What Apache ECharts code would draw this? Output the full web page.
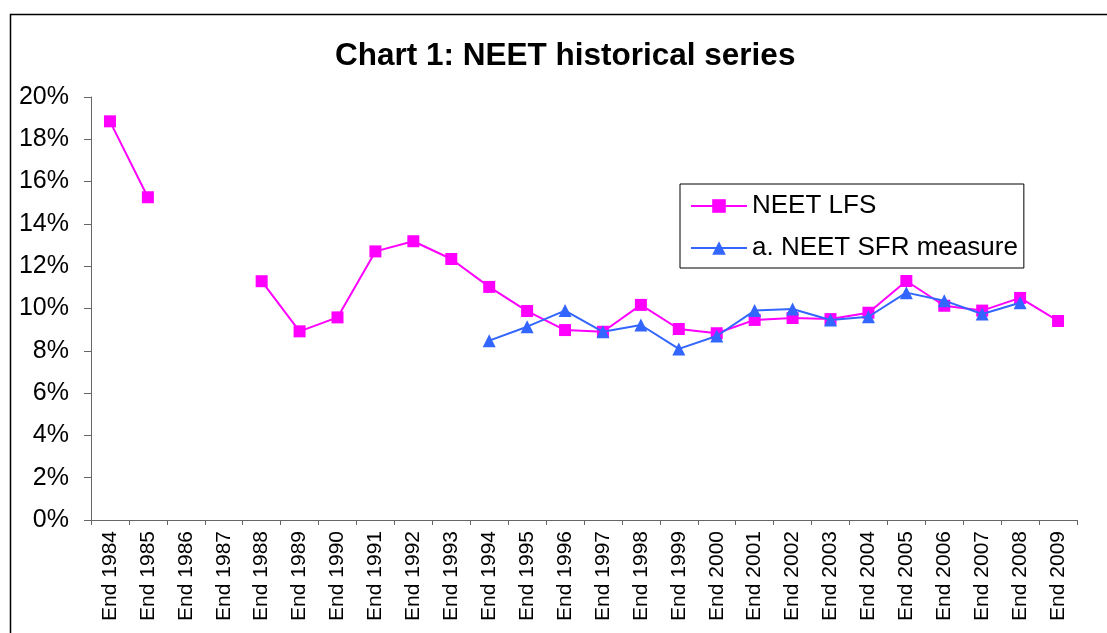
<!DOCTYPE html>
<html>
<head>
<meta charset="utf-8">
<script src="https://cdn.jsdelivr.net/npm/echarts@6/dist/echarts.min.js"></script>
<style>
html,body{margin:0;padding:0;background:#fff;}
#main{width:1107px;height:633px;}
</style>
</head>
<body>
<div id="main"></div>
<script>
const categories = ['End 1984','End 1985','End 1986','End 1987','End 1988','End 1989','End 1990','End 1991','End 1992','End 1993','End 1994','End 1995','End 1996','End 1997','End 1998','End 1999','End 2000','End 2001','End 2002','End 2003','End 2004','End 2005','End 2006','End 2007','End 2008','End 2009'];
const neetLFS = [18.85, 15.26, null, null, 11.29, 8.92, 9.58, 12.70, 13.18, 12.34, 11.02, 9.88, 8.98, 8.90, 10.17, 9.03, 8.83, 9.46, 9.55, 9.50, 9.80, 11.30, 10.13, 9.90, 10.50, 9.41];
const neetSFR = [null, null, null, null, null, null, null, null, null, null, 8.48, 9.14, 9.90, 8.90, 9.22, 8.09, 8.70, 9.90, 9.98, 9.46, 9.61, 10.75, 10.37, 9.74, 10.27, null];
const seriesNames = ['NEET LFS', 'a. NEET SFR measure'];
const titleText = 'Chart 1: NEET historical series';

const FONT = '"Liberation Sans", Arial, sans-serif';
const chart = echarts.init(document.getElementById('main'), null, {renderer: 'canvas'});
chart.setOption({
  animation: false,
  backgroundColor: '#fff',
  textStyle: {fontFamily: FONT},
  title: {
    text: titleText,
    left: 335, top: 40,
    padding: 0,
    textStyle: {fontFamily: FONT, fontSize: 31.5, fontWeight: 'bold', color: '#000'}
  },
  graphic: [{
    type: 'rect', left: 8, top: 12, silent: true,
    shape: {width: 1200, height: 700},
    style: {fill: 'none', stroke: '#000', lineWidth: 1.5}
  }],
  legend: {
    orient: 'vertical',
    left: 680, top: 184,
    padding: [7, 6, 5, 10],
    itemGap: 12,
    itemWidth: 56, itemHeight: 17,
    backgroundColor: '#fff',
    borderColor: '#000', borderWidth: 1,
    textStyle: {fontFamily: FONT, fontSize: 26, color: '#000', lineHeight: 30},
    data: seriesNames
  },
  grid: {left: 91, right: 30, top: 97, bottom: 113, containLabel: false},
  xAxis: {
    type: 'category',
    data: categories,
    boundaryGap: true,
    axisLine: {lineStyle: {color: '#666', width: 1}},
    axisTick: {show: true, length: 5, alignWithLabel: false, lineStyle: {color: '#666'}},
    axisLabel: {rotate: 90, margin: 11, interval: 0, fontFamily: FONT, fontSize: 21, color: '#000'},
    splitLine: {show: false}
  },
  yAxis: {
    type: 'value',
    min: 0, max: 20, interval: 2,
    axisLine: {show: true, lineStyle: {color: '#666', width: 1}},
    axisTick: {show: true, length: 7, lineStyle: {color: '#666'}},
    axisLabel: {formatter: '{value}%', margin: 22, fontFamily: FONT, fontSize: 25, color: '#000'},
    splitLine: {show: false}
  },
  series: [
    {
      name: seriesNames[0], type: 'line', data: neetLFS,
      connectNulls: false,
      symbol: 'rect', symbolSize: 12,
      lineStyle: {color: '#FF00FF', width: 2},
      itemStyle: {color: '#FF00FF'},
      z: 2
    },
    {
      name: seriesNames[1], type: 'line', data: neetSFR,
      connectNulls: false,
      symbol: 'triangle', symbolSize: 13,
      lineStyle: {color: '#3366FF', width: 2},
      itemStyle: {color: '#3366FF'},
      z: 3
    }
  ]
});
</script>
</body>
</html>
